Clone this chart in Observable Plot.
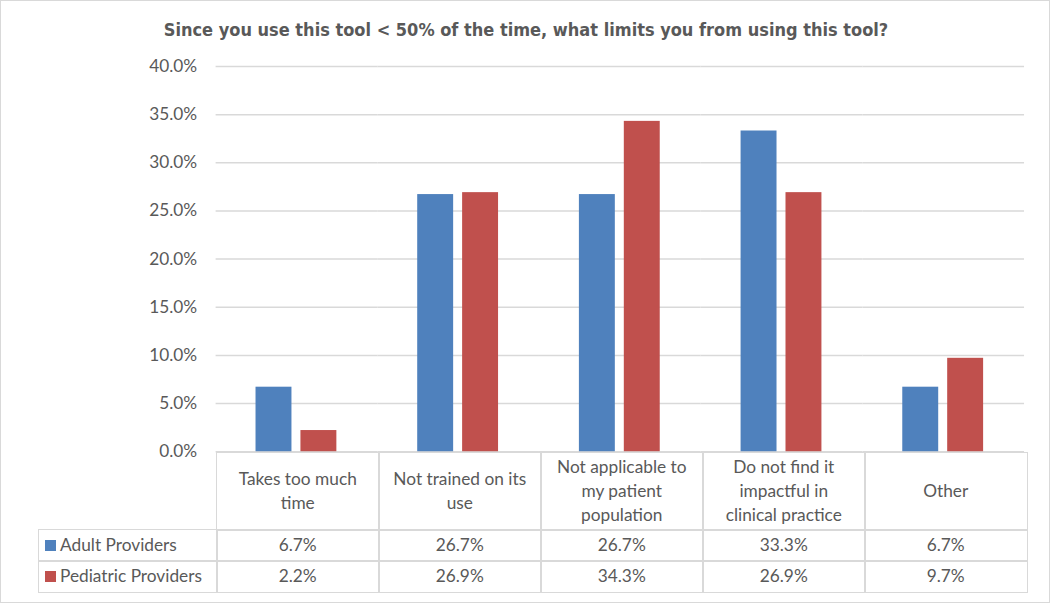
<!DOCTYPE html>
<html>
<head>
<meta charset="utf-8">
<script src="https://cdn.jsdelivr.net/npm/d3@7"></script>
<script src="https://cdn.jsdelivr.net/npm/@observablehq/plot@0.6"></script>
<style>
  html, body { margin: 0; padding: 0; background: #fff; }
  #frame { position: relative; width: 1050px; height: 603px; box-sizing: border-box; border: 1.5px solid #d9d9d9; overflow: hidden; font-family: Lato, "Open Sans", sans-serif; color: #595959; }
  #title { position: absolute; left: 0; top: 0; width: 1050px; height: 50px; display: flex; align-items: center; justify-content: center; font-family: "Liberation Sans Narrow", "DejaVu Sans Condensed", Arial, sans-serif; font-weight: bold; font-size: 18px; color: #595959; padding-top: 6px; box-sizing: border-box; }
  #chart { position: absolute; left: 0; top: 50px; }
  .cell { position: absolute; box-sizing: border-box; border: 1.5px solid #d9d9d9; display: flex; align-items: center; justify-content: center; text-align: center; font-size: 17.3px; line-height: 24px; color: #595959; background: transparent; }
  .legcell { justify-content: flex-start; padding-left: 6px; }
  .sw { display: inline-block; width: 11px; height: 11px; margin-right: 4px; }
</style>
</head>
<body>
<div id="frame">
  <div id="title">Since you use this tool &lt; 50% of the time, what limits you from using this tool?</div>
  <div id="chart"></div>
</div>
<script>
const categories = ["Takes too much time", "Not trained on its use", "Not applicable to my patient population", "Do not find it impactful in clinical practice", "Other"];
const headerLines = [["Takes too much", "time"], ["Not trained on its", "use"], ["Not applicable to", "my patient", "population"], ["Do not find it", "impactful in", "clinical practice"], ["Other"]];
const seriesNames = ["Adult Providers", "Pediatric Providers"];
const adultValues = [6.7, 26.7, 26.7, 33.3, 6.7];
const pediatricValues = [2.2, 26.9, 34.3, 26.9, 9.7];
const seriesColors = ["#4f81bd", "#c0504d"];
const yTicks = [0, 5, 10, 15, 20, 25, 30, 35, 40];

const seriesValues = [adultValues, pediatricValues];
const data = [];
categories.forEach((c, i) => {
  seriesNames.forEach((s, j) => data.push({category: c, series: s, value: seriesValues[j][i]}));
});

const fmt = d => d.toFixed(1) + "%";
const chartTop = 50;

const plot = Plot.plot({
  width: 1050,
  height: 551,
  marginTop: 15,
  marginBottom: 150,
  marginLeft: 215,
  marginRight: 25,
  style: {fontFamily: "Lato, 'Open Sans', sans-serif", fontSize: "17.3px", color: "#595959", background: "transparent", overflow: "visible"},
  fx: {domain: categories, padding: 0, axis: null, label: null},
  x: {domain: seriesNames, paddingInner: 0.196, paddingOuter: 0.86, axis: null},
  y: {domain: [0, 40], axis: null},
  color: {domain: seriesNames, range: seriesColors},
  marks: [
    Plot.gridY(yTicks, {stroke: "#d9d9d9", strokeOpacity: 1, strokeWidth: 1.5}),
    Plot.axisY(yTicks, {tickSize: 0, tickPadding: 19, tickFormat: fmt, label: null, fill: "#595959"}),
    Plot.barY(data, {fx: "category", x: "series", y: "value", fill: "series"})
  ]
});
document.getElementById("chart").appendChild(plot);

// data table under the chart, aligned with the library's scales
const fx = plot.scale("fx");
const ys = plot.scale("y");
const frame = document.getElementById("frame");
const y0 = chartTop + ys.apply(0);
const headerH = 77, rowH = 31;
const legendLeft = 37;

function cell(x, y, w, h, html, cls) {
  const d = document.createElement("div");
  d.className = "cell" + (cls ? " " + cls : "");
  d.style.left = x + "px"; d.style.top = y + "px";
  d.style.width = (w + 1.5) + "px"; d.style.height = (h + 1.5) + "px";
  d.innerHTML = html;
  frame.appendChild(d);
}
categories.forEach((c, i) => {
  const x = fx.apply(c), w = fx.bandwidth;
  cell(x, y0, w, headerH, headerLines[i].join("<br>"));
  seriesNames.forEach((s, j) => {
    cell(x, y0 + headerH + j * rowH, w, rowH, fmt(seriesValues[j][i]));
  });
});
const firstX = fx.apply(categories[0]);
seriesNames.forEach((s, j) => {
  cell(legendLeft, y0 + headerH + j * rowH, firstX - legendLeft, rowH,
    `<span class="sw" style="background:${seriesColors[j]}"></span>${s}`, "legcell");
});
</script>
</body>
</html>
